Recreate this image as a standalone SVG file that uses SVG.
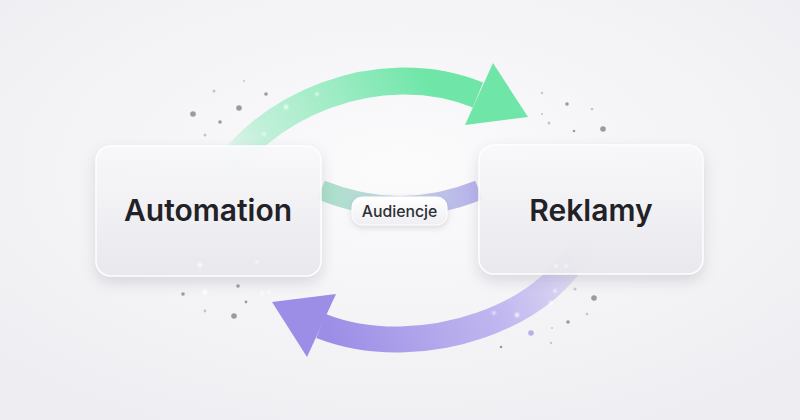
<svg xmlns="http://www.w3.org/2000/svg" width="800" height="420" viewBox="0 0 800 420">
  <defs>
    <radialGradient id="bg" cx="50%" cy="40%" r="70%">
      <stop offset="0" stop-color="#fbfbfc"/>
      <stop offset="1" stop-color="#eeeef2"/>
    </radialGradient>
    <linearGradient id="boxFill" x1="0" y1="0" x2="0" y2="1">
      <stop offset="0" stop-color="#f9f9fb"/>
      <stop offset="1" stop-color="#e8e8ed"/>
    </linearGradient>
    <linearGradient id="pillFill" x1="0" y1="0" x2="0" y2="1">
      <stop offset="0" stop-color="#ffffff"/>
      <stop offset="1" stop-color="#efeff3"/>
    </linearGradient>
    <linearGradient id="greenArc" gradientUnits="userSpaceOnUse" x1="225" y1="180" x2="420" y2="70">
      <stop offset="0" stop-color="#74e3ab" stop-opacity="0"/>
      <stop offset="0.3" stop-color="#9cebc4" stop-opacity="0.65"/>
      <stop offset="1" stop-color="#6fe6a8"/>
    </linearGradient>
    <linearGradient id="purpleArc" gradientUnits="userSpaceOnUse" x1="585" y1="235" x2="330" y2="330">
      <stop offset="0" stop-color="#a89cea" stop-opacity="0.15"/>
      <stop offset="0.4" stop-color="#b3a8ee" stop-opacity="0.8"/>
      <stop offset="1" stop-color="#9c8ee6"/>
    </linearGradient>
    <linearGradient id="midBand" gradientUnits="userSpaceOnUse" x1="321" y1="0" x2="479" y2="0">
      <stop offset="0" stop-color="#a9e0c9"/>
      <stop offset="0.5" stop-color="#c6d6e3"/>
      <stop offset="1" stop-color="#b6b0ec"/>
    </linearGradient>
    <filter id="shadow" x="-20%" y="-20%" width="140%" height="160%">
      <feDropShadow dx="0" dy="6" stdDeviation="7" flood-color="#8a8a9a" flood-opacity="0.3"/>
    </filter>
    <filter id="pillShadow" x="-20%" y="-40%" width="140%" height="200%">
      <feDropShadow dx="0" dy="2" stdDeviation="3" flood-color="#8a8a9a" flood-opacity="0.3"/>
    </filter>
    <filter id="glow" x="-200%" y="-200%" width="500%" height="500%">
      <feGaussianBlur stdDeviation="1.2"/>
    </filter>
  </defs>
  <style>
    .box { fill: url(#boxFill); stroke: #ffffff; stroke-width: 1.5; filter: url(#shadow); opacity: 0.92; }
    .label { font-family: Inter, "Liberation Sans", sans-serif; font-weight: 600; font-size: 30px; fill: #222226; text-anchor: middle; }
    .pilltext { font-family: Inter, "Liberation Sans", sans-serif; font-weight: 500; font-size: 15.8px; fill: #2e2e33; text-anchor: middle; }
    .dot { fill: #9a9aa2; }
    .dotl { fill: #c4c4cc; }
    .spark { fill: #ffffff; filter: url(#glow); }
  </style>

  <rect width="800" height="420" fill="url(#bg)"/>

  <g id="connectors">
    <path d="M 321 190 Q 400 222 479 190" fill="none" stroke="url(#midBand)" stroke-width="20"/>
    <g id="arrow-automation-reklamy">
      <path d="M 214 188 C 258 105, 380 55, 478 95" fill="none" stroke="url(#greenArc)" stroke-width="27"/>
      <polygon points="493,63 465,125 528,117" fill="#6fe6a8"/>
    </g>
    <g id="arrow-reklamy-automation">
      <path d="M 585 235 C 560 315, 420 365, 321 326" fill="none" stroke="url(#purpleArc)" stroke-width="26"/>
      <polygon points="336,294 307,357 272,302" fill="#9c8ee6"/>
    </g>
  </g>

  <g id="node-automation">
    <rect class="box" x="96" y="146" width="225" height="130" rx="15"/>
    <text class="label" x="208" y="221">Automation</text>
  </g>

  <g id="node-reklamy">
    <rect class="box" x="479" y="145" width="224" height="129" rx="15"/>
    <text class="label" x="591" y="221">Reklamy</text>
  </g>

  <g id="label-audiencje">
    <rect x="352" y="197" width="95" height="28" rx="10" fill="url(#pillFill)" stroke="#ffffff" stroke-width="1" filter="url(#pillShadow)"/>
    <text class="pilltext" x="399.5" y="216.5">Audiencje</text>
  </g>

  <g id="particles">
    <circle class="dot" cx="193" cy="114" r="2.8"/>
    <circle class="dot" cx="239" cy="108" r="2.8"/>
    <circle class="dot" cx="220" cy="122" r="1.8"/>
    <circle class="dot" cx="266" cy="94" r="1.8"/>
    <circle class="dotl" cx="205" cy="135" r="1.5"/>
    <circle class="dotl" cx="214" cy="91" r="1.5"/>
    <circle class="dotl" cx="244" cy="81" r="1"/>
    <circle class="dot" cx="567" cy="104" r="1.8"/>
    <circle class="dot" cx="603" cy="129" r="2.8"/>
    <circle class="dotl" cx="549" cy="123" r="1.5"/>
    <circle class="dot" cx="574" cy="131" r="1.3"/>
    <circle class="dotl" cx="592" cy="109" r="1.3"/>
    <circle class="dotl" cx="542" cy="93" r="1.2"/>
    <circle class="dotl" cx="542" cy="114" r="1"/>
    <circle class="dot" cx="183" cy="294" r="1.8"/>
    <circle class="dot" cx="238" cy="286" r="1.8"/>
    <circle class="dot" cx="234" cy="316" r="2.8"/>
    <circle class="dot" cx="246" cy="302" r="1.4"/>
    <circle class="dotl" cx="205" cy="311" r="1.4"/>
    <circle class="dot" cx="594" cy="298" r="2.8"/>
    <circle class="dot" cx="568" cy="322" r="1.8"/>
    <circle cx="531" cy="333" r="2.8" fill="#b9b0e6"/>
    <circle class="dotl" cx="575" cy="289" r="1.5"/>
    <circle class="dotl" cx="587" cy="314" r="1.3"/>
    <circle class="dotl" cx="551" cy="343" r="1.2"/>
    <circle class="dot" cx="501" cy="347" r="1.3"/>
    <circle class="dotl" cx="552" cy="328" r="1"/>
    <circle class="spark" cx="286" cy="107" r="2"/>
    <circle class="spark" cx="317" cy="94" r="1.6"/>
    <circle class="spark" cx="264" cy="134" r="1.5"/>
    <circle class="spark" cx="205" cy="292" r="2.2"/>
    <circle class="spark" cx="200" cy="265" r="2"/>
    <circle class="spark" cx="262" cy="293" r="1.6"/>
    <circle class="spark" cx="257" cy="262" r="1.4"/>
    <circle class="spark" cx="551" cy="303" r="1.8"/>
    <circle class="spark" cx="556" cy="266" r="1.6"/>
    <circle class="spark" cx="517" cy="315" r="2"/>
    <circle class="spark" cx="494" cy="313" r="1.4"/>
    <circle class="spark" cx="555" cy="291" r="1.4"/>
    <circle class="spark" cx="566" cy="266" r="1.3"/>
    <circle class="spark" cx="269" cy="292" r="1.2"/>
  </g>
</svg>
